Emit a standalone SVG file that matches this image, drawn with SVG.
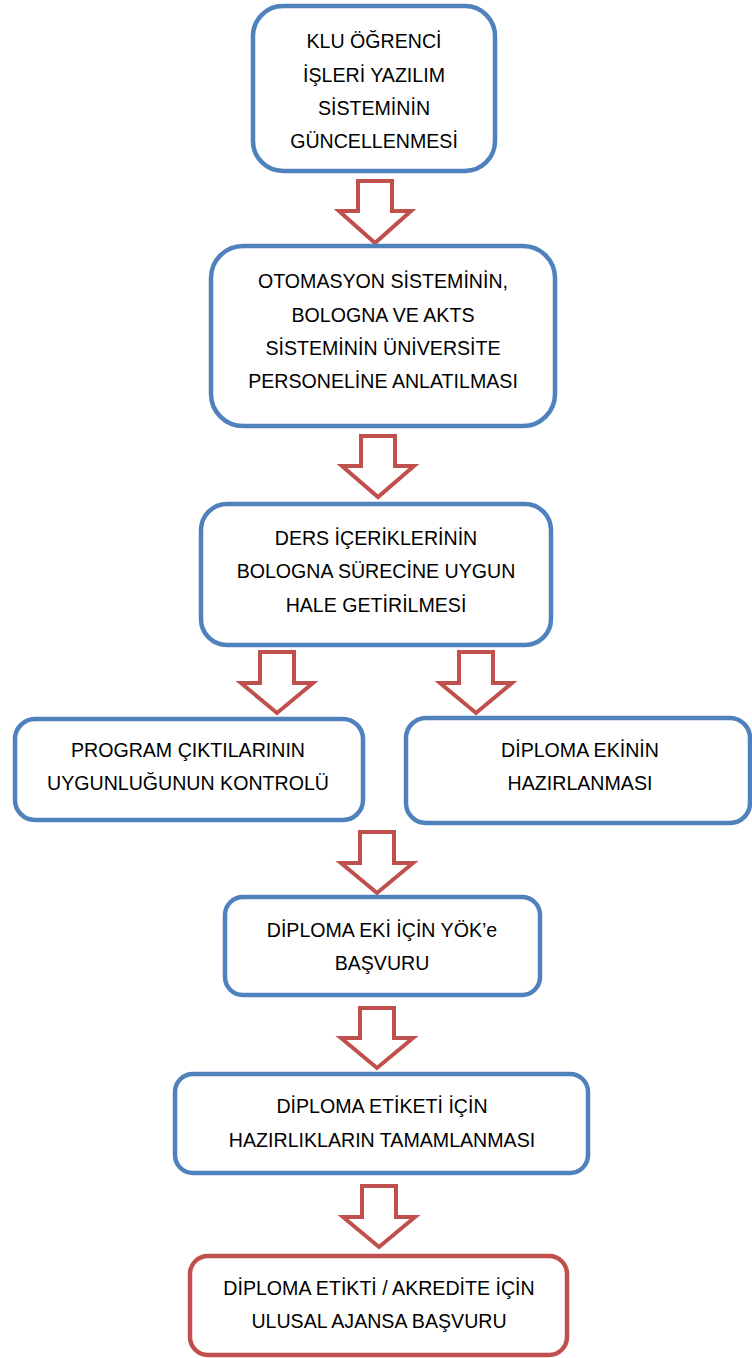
<svg xmlns="http://www.w3.org/2000/svg" width="752" height="1358" viewBox="0 0 752 1358">
<style>
.box{fill:#ffffff;stroke:#4f81bd;stroke-width:4.5}
.red{fill:#ffffff;stroke:#c0504d;stroke-width:4.5}
.arr{fill:#ffffff;stroke:#c0504d;stroke-width:4;stroke-linejoin:miter}
text{font-family:"Liberation Sans",Arial,sans-serif;font-size:19.6px;fill:#000000;text-anchor:middle}
</style>
<rect width="752" height="1358" fill="#ffffff"/>
<g id="connectors">
<path class="arr" d="M358,181 H392 V211 H411 L375,243 L339,211 H358 Z"/>
<path class="arr" d="M361,436 H395 V466 H414 L378,497 L342,466 H361 Z"/>
<path class="arr" d="M260,652 H294 V683 H313 L277,713 L241,683 H260 Z"/>
<path class="arr" d="M459,652 H493 V683 H512 L476,713 L440,683 H459 Z"/>
<path class="arr" d="M360,832 H394 V863 H413 L377,893 L341,863 H360 Z"/>
<path class="arr" d="M360,1008 H394 V1038 H413 L377,1068 L341,1038 H360 Z"/>
<path class="arr" d="M362,1186 H396 V1217 H415 L379,1247 L343,1217 H362 Z"/>
</g>
<g id="n1">
<rect class="box" x="253" y="6" width="242" height="165" rx="30"/>
<text x="374" y="48">KLU ÖĞRENCİ</text>
<text x="374" y="82">İŞLERİ YAZILIM</text>
<text x="374" y="115">SİSTEMİNİN</text>
<text x="374" y="148">GÜNCELLENMESİ</text>
</g>
<g id="n2">
<rect class="box" x="211" y="246" width="344" height="180" rx="32"/>
<text x="383" y="288">OTOMASYON SİSTEMİNİN,</text>
<text x="383" y="322">BOLOGNA VE AKTS</text>
<text x="383" y="355">SİSTEMİNİN ÜNİVERSİTE</text>
<text x="383" y="388">PERSONELİNE ANLATILMASI</text>
</g>
<g id="n3">
<rect class="box" x="201" y="504" width="350" height="141" rx="26"/>
<text x="376" y="545">DERS İÇERİKLERİNİN</text>
<text x="376" y="578">BOLOGNA SÜRECİNE UYGUN</text>
<text x="376" y="612">HALE GETİRİLMESİ</text>
</g>
<g id="n4">
<rect class="box" x="15" y="719" width="348" height="101" rx="20"/>
<text x="188" y="757">PROGRAM ÇIKTILARININ</text>
<text x="188" y="790">UYGUNLUĞUNUN KONTROLÜ</text>
</g>
<g id="n5">
<rect class="box" x="406" y="718" width="344" height="105" rx="20"/>
<text x="580" y="757">DİPLOMA EKİNİN</text>
<text x="580" y="790">HAZIRLANMASI</text>
</g>
<g id="n6">
<rect class="box" x="225" y="897" width="315" height="98" rx="18"/>
<text x="382" y="937">DİPLOMA EKİ İÇİN YÖK’e</text>
<text x="382" y="970">BAŞVURU</text>
</g>
<g id="n7">
<rect class="box" x="175" y="1074" width="413" height="99" rx="18"/>
<text x="382" y="1113">DİPLOMA ETİKETİ İÇİN</text>
<text x="382" y="1147">HAZIRLIKLARIN TAMAMLANMASI</text>
</g>
<g id="n8">
<rect class="red" x="190" y="1256" width="377" height="99" rx="18"/>
<text x="379" y="1295">DİPLOMA ETİKTİ / AKREDİTE İÇİN</text>
<text x="379" y="1328">ULUSAL AJANSA BAŞVURU</text>
</g>
</svg>
